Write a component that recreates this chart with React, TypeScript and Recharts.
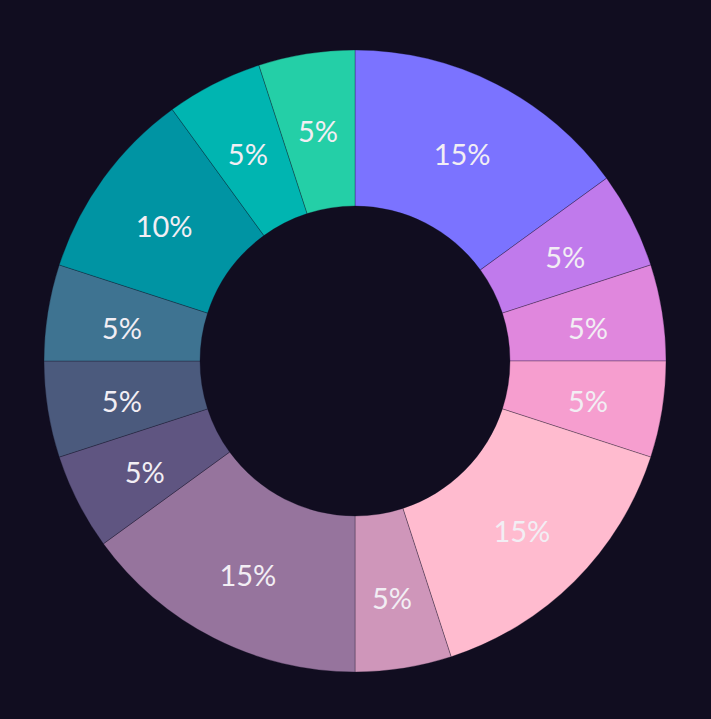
import React from "react";
import { PieChart, Pie, Cell } from "recharts";

const labels = ["A", "B", "C", "D", "E", "F", "G", "H", "I", "J", "K", "L", "M"];
const shares = [15, 5, 5, 5, 15, 5, 15, 5, 5, 5, 10, 5, 5];
const colors = [
  "#7b73ff",
  "#c07aec",
  "#e087dd",
  "#f69ecf",
  "#ffbbcf",
  "#cf96ba",
  "#96749d",
  "#5f5581",
  "#4b5a7d",
  "#3e7391",
  "#0094a3",
  "#00b5b1",
  "#24cfa7",
];

const data = labels.map((name, i) => ({ name, value: shares[i] }));

const RADIAN = Math.PI / 180;

const renderLabel = (props: any) => {
  const { cx, cy, midAngle, innerRadius, outerRadius, value } = props;
  const r = (innerRadius + outerRadius) / 2 + 3;
  const x = cx + r * Math.cos(-midAngle * RADIAN);
  const y = cy + r * Math.sin(-midAngle * RADIAN) + 3;
  return (
    <text
      x={x}
      y={y}
      fill="#f2eef4"
      textAnchor="middle"
      dominantBaseline="central"
      fontSize={29}
      fontFamily="Lato, sans-serif"
    >
      {`${value}%`}
    </text>
  );
};

export default function App() {
  return (
    <div style={{ position: "absolute", left: 0, top: 0, width: 711, height: 719, background: "#110d20" }}>
      <PieChart width={711} height={719} margin={{ top: 0, right: 0, bottom: 0, left: 0 }}>
        <Pie
          data={data}
          dataKey="value"
          cx={355}
          cy={361}
          innerRadius={155}
          outerRadius={311}
          startAngle={90}
          endAngle={-270}
          stroke="rgba(17,13,32,0.3)"
          strokeWidth={1}
          label={renderLabel}
          labelLine={false}
          isAnimationActive={false}
        >
          {data.map((d, i) => (
            <Cell key={d.name} fill={colors[i]} />
          ))}
        </Pie>
      </PieChart>
    </div>
  );
}
